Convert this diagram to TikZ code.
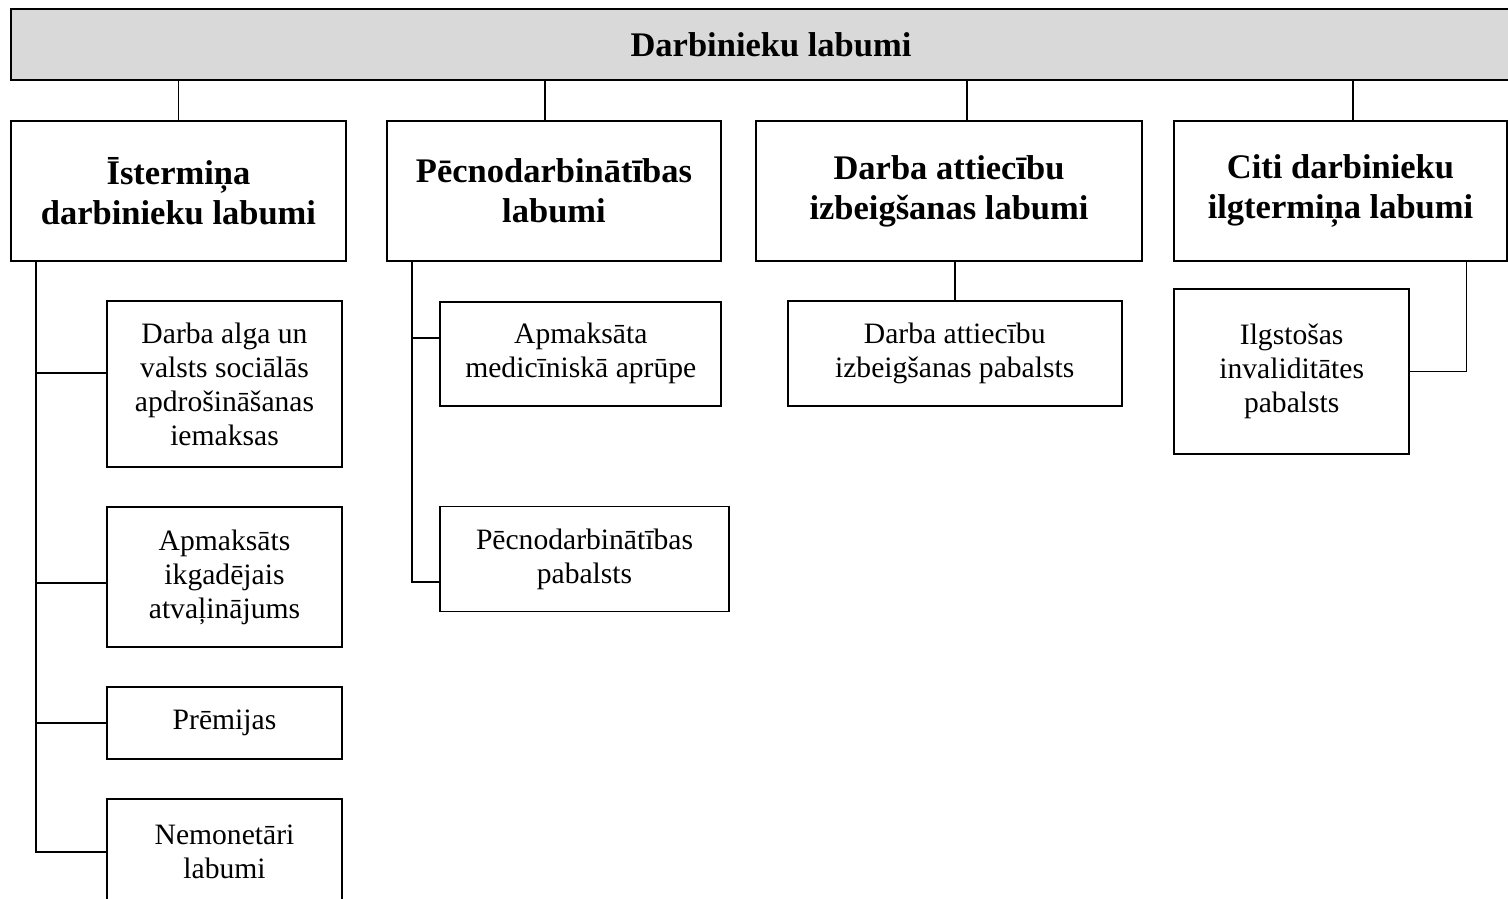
\documentclass[tikz,border=0pt]{standalone}
\usepackage{fontspec}
\setmainfont{Liberation Serif}
\usepackage{xcolor}
\usetikzlibrary{positioning}

\definecolor{bargray}{HTML}{D9D9D9}
\tikzset{
  box/.style={draw=black,line width=1.7pt,align=center,inner sep=0pt,
    font=\fontsize{29.6}{34}\selectfont},
  headbox/.style={box,font=\fontsize{34.5}{39.7}\selectfont\bfseries},
}

\begin{document}
\begin{tikzpicture}[x=1pt,y=-1pt]
  \useasboundingbox (0,0) rectangle (1508,899);
  \begin{scope}[every node/.style={headbox,minimum height=140pt}]
    \node[fill=bargray,minimum width=1520pt,minimum height=71pt] (top) at (771,44.5) {Darbinieku labumi};
    \node[minimum width=335pt] (b1) at (178.5,191) {Īstermiņa\\darbinieku labumi};
    \node[minimum width=334pt] (b2) at (554,191) {Pēcnodarbinātības\\labumi};
    \node[minimum width=386pt] (b3) at (949,191) {Darba attiecību\\izbeigšanas labumi};
    \node[minimum width=333pt] (b4) at (1340.5,191) {Citi darbinieku\\ilgtermiņa labumi};
  \end{scope}
  \begin{scope}[every node/.style={box,minimum width=235pt}]
    \node[minimum height=166pt] (s1) at (224.5,384) {Darba alga un\\valsts sociālās\\apdrošināšanas\\iemaksas};
    \node[minimum height=140pt] (s2) at (224.5,577) {Apmaksāts\\ikgadējais\\atvaļinājums};
    \node[minimum height=72pt] (s3) at (224.5,723) {Prēmijas};
    \node[minimum height=106pt] (s4) at (224.5,852) {Nemonetāri\\labumi};
    \node[minimum width=281pt,minimum height=104pt] (t1) at (580.8,353.7) {Apmaksāta\\medicīniskā aprūpe};
    \node[minimum width=289pt,minimum height=105pt] (t2) at (584.5,559) {Pēcnodarbinātības\\pabalsts};
    \node[minimum width=334pt,minimum height=105pt] (u1) at (954.7,353.5) {Darba attiecību\\izbeigšanas pabalsts};
    \node[minimum height=165pt] (v1) at (1291.7,371.5) {Ilgstošas\\invaliditātes\\pabalsts};
  \end{scope}
  % joints under the top bar and the spines
  \coordinate (j1) at (b1.north);
  \coordinate (j2) at ([xshift=-9pt]b2.north);
  \coordinate (j3) at ([xshift=18pt]b3.north);
  \coordinate (j4) at ([xshift=12.5pt]b4.north);
  \coordinate (sp1) at ([xshift=-142.5pt]b1.south);
  \coordinate (sp2) at ([xshift=-142pt]b2.south);
  \coordinate (sp4) at ([xshift=126pt]b4.south);
  \begin{scope}[line width=1.7pt]
    \foreach \j in {j1,j2,j3,j4}
      \draw (\j) -- (\j |- top.south);
    \draw (sp1) |- ([yshift=11pt]s1.west);
    \draw (sp1) |- ([yshift=-6pt]s2.west);
    \draw (sp1) |- (s3.west);
    \draw (sp1) |- (s4.west);
    \draw (sp2) |- ([yshift=15.4pt]t1.west);
    \draw (sp2) |- ([yshift=-23.3pt]t2.west);
    \draw (u1.north) -- (u1.north |- b3.south);
    \draw (sp4) |- (v1.east);
  \end{scope}
\end{tikzpicture}
\end{document}
